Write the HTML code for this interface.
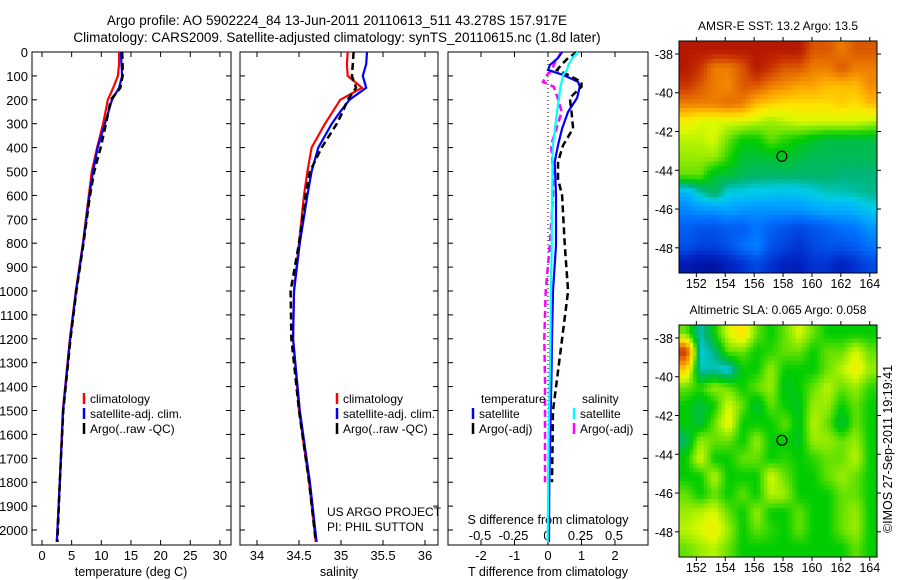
<!DOCTYPE html>
<html><head><meta charset="utf-8"><style>
body{margin:0;background:#fff;}
svg{display:block;font-family:"Liberation Sans",sans-serif;}
</style></head><body>
<svg id="c" width="900" height="580" viewBox="0 0 900 580">
<text x="337" y="25" font-size="13.5" text-anchor="middle">Argo profile: AO 5902224_84 13-Jun-2011 20110613_511 43.278S 157.917E</text>
<text x="337" y="42" font-size="13.5" text-anchor="middle">Climatology: CARS2009. Satellite-adjusted climatology: synTS_20110615.nc (1.8d later)</text>
</svg>
<script>
// ---- data ----
const depths=[0,50,100,150,200,250,300,400,500,600,800,1000,1200,1500,1800,2050];
const tempClim=[13.0,13.0,12.8,12.0,11.1,10.7,10.3,9.3,8.4,7.9,6.9,5.7,4.7,3.5,3.0,2.5];
const tempSat=[13.3,13.4,13.5,13.0,11.8,11.2,10.6,9.4,8.6,8.0,6.95,5.75,4.75,3.55,3.0,2.5];
const tempArgo=[13.5,13.6,13.6,13.2,11.6,11.2,10.8,9.9,8.8,8.1,7.0,5.8,4.8,3.6,3.0,2.6];
const salClim=[35.08,35.07,35.08,35.25,34.99,34.9,34.81,34.65,34.6,34.56,34.5,34.44,34.43,34.5,34.62,34.7];
const salSat=[35.31,35.3,35.26,35.3,35.1,34.99,34.89,34.73,34.65,34.6,34.51,34.44,34.43,34.51,34.63,34.71];
const salArgo=[35.15,35.14,35.13,35.18,35.08,35.02,34.95,34.77,34.63,34.58,34.5,34.4,34.41,34.5,34.62,34.7];
const dDepth=[0,25,54,75,96,125,145,192,250,320,390,460,530,600,810,1000,1200,1370,1500,1800,2050];
const dTsat=[0.42,0.3,0.06,0.0,0.45,0.9,0.95,0.87,0.6,0.42,0.3,0.2,0.22,0.24,0.24,0.15,0.12,0.1,0.08,0.04,0.03];
const dTargo=[0.87,0.6,0.4,0.27,0.6,1.0,1.0,0.65,0.7,0.75,0.45,0.3,0.3,0.42,0.5,0.6,0.42,0.27,0.15,0.12,null];
const dSsat=[0.23,0.19,0.16,0.15,0.12,0.11,0.1,0.09,0.075,0.06,0.045,0.04,0.04,0.037,0.035,0.03,0.025,0.02,0.015,0.008,0.005];
const dSargo=[0.11,0.08,0.05,0.04,0.0,-0.03,0.05,0.08,0.11,0.07,0.03,0.04,0.045,0.045,0.02,-0.01,-0.02,-0.015,-0.015,-0.015,null];
const sstGrid=[
[0.95,0.95,0.95,0.95,0.95,0.95,0.95,0.95,0.95,0.85,0.85,0.8,0.85,0.85],
[0.95,0.9,0.8,0.8,0.85,0.95,0.9,0.85,0.85,0.8,0.8,0.85,0.8,0.8],
[0.9,0.85,0.8,0.78,0.85,0.85,0.8,0.78,0.75,0.75,0.72,0.72,0.72,0.78],
[0.8,0.8,0.8,0.82,0.8,0.72,0.7,0.68,0.68,0.68,0.68,0.7,0.68,0.72],
[0.65,0.62,0.62,0.62,0.62,0.6,0.58,0.6,0.62,0.62,0.62,0.62,0.62,0.6],
[0.6,0.6,0.62,0.55,0.5,0.5,0.55,0.52,0.5,0.48,0.46,0.46,0.46,0.46],
[0.58,0.58,0.58,0.52,0.47,0.47,0.47,0.48,0.46,0.45,0.45,0.45,0.45,0.45],
[0.55,0.55,0.47,0.47,0.45,0.44,0.44,0.44,0.44,0.44,0.44,0.43,0.43,0.43],
[0.34,0.4,0.45,0.38,0.38,0.37,0.37,0.36,0.37,0.38,0.4,0.4,0.41,0.42],
[0.28,0.3,0.3,0.32,0.3,0.3,0.3,0.3,0.3,0.32,0.33,0.33,0.34,0.37],
[0.22,0.2,0.2,0.22,0.22,0.26,0.22,0.2,0.18,0.2,0.22,0.25,0.26,0.3],
[0.2,0.17,0.17,0.2,0.25,0.28,0.2,0.17,0.14,0.18,0.2,0.2,0.22,0.26],
[0.08,0.06,0.06,0.1,0.14,0.18,0.14,0.1,0.1,0.14,0.14,0.1,0.14,0.18]];
const slaGrid=[
[0.55,0.4,0.5,0.62,0.68,0.55,0.5,0.55,0.62,0.55,0.5,0.5,0.5,0.5],
[0.9,0.38,0.42,0.55,0.55,0.5,0.52,0.55,0.55,0.5,0.55,0.55,0.62,0.55],
[0.7,0.4,0.4,0.37,0.5,0.5,0.58,0.5,0.5,0.5,0.55,0.6,0.65,0.58],
[0.55,0.52,0.58,0.55,0.5,0.55,0.58,0.48,0.5,0.55,0.6,0.55,0.58,0.52],
[0.5,0.46,0.5,0.62,0.55,0.46,0.55,0.5,0.48,0.58,0.58,0.5,0.55,0.5],
[0.5,0.46,0.55,0.65,0.5,0.5,0.5,0.55,0.48,0.6,0.55,0.46,0.55,0.5],
[0.44,0.58,0.55,0.55,0.5,0.58,0.5,0.5,0.48,0.58,0.58,0.55,0.58,0.5],
[0.5,0.62,0.5,0.5,0.55,0.55,0.5,0.52,0.5,0.52,0.55,0.55,0.6,0.5],
[0.5,0.5,0.6,0.5,0.5,0.5,0.62,0.55,0.5,0.5,0.55,0.58,0.55,0.5],
[0.55,0.5,0.55,0.5,0.55,0.5,0.6,0.58,0.5,0.5,0.5,0.55,0.55,0.5],
[0.58,0.6,0.62,0.55,0.5,0.58,0.5,0.5,0.55,0.5,0.5,0.55,0.58,0.5],
[0.6,0.62,0.65,0.58,0.5,0.55,0.52,0.5,0.55,0.5,0.5,0.55,0.58,0.5],
[0.55,0.58,0.6,0.55,0.5,0.5,0.5,0.5,0.5,0.5,0.5,0.5,0.55,0.5]];
const depthTicks=[0,100,200,300,400,500,600,700,800,900,1000,1100,1200,1300,1400,1500,1600,1700,1800,1900,2000];
const tempTicks=[0,5,10,15,20,25,30];
const salTicks=[34,34.5,35,35.5,36];
const tdTicks=[-2,-1,0,1,2];
const sdTicks=[-0.5,-0.25,0,0.25,0.5];
const sdLabels=['-0.5','-0.25','0','0.25','0.5'];
const lonTicks=[152,154,156,158,160,162,164];
const latTicks=[-38,-40,-42,-44,-46,-48];
const argoLon=157.917, argoLat=-43.278;

const svg=document.getElementById('c');
const NS='http://www.w3.org/2000/svg';
function mk(tag,a,parent){const e=document.createElementNS(NS,tag);for(const k in a)e.setAttribute(k,a[k]);(parent||svg).appendChild(e);return e;}
const TOP=52,BOT=545;
const yD=d=>TOP+d*0.239;
const xT=v=>42+v*5.93;
const xS=v=>257+(v-34)*84;
const xTd=v=>548+v*33.5;
const xSd=v=>547+v*134;

function series(xs,ys,fx,color,w,dash,name){
  let pts=[];
  for(let i=0;i<xs.length;i++){if(xs[i]===null)continue;pts.push(fx(xs[i]).toFixed(1)+','+yD(ys[i]).toFixed(1));}
  const p=mk('polyline',{points:pts.join(' '),fill:'none',stroke:color,'stroke-width':w});
  if(dash)p.setAttribute('stroke-dasharray',dash);
  
  
}
function panel(x0,x1,name){
  const r=mk('rect',{x:x0,y:TOP,width:x1-x0,height:BOT-TOP,fill:'none',stroke:'#000','stroke-width':1});
  
  
  depthTicks.forEach(d=>{mk('line',{x1:x0,x2:x0+5,y1:yD(d),y2:yD(d),stroke:'#000'});mk('line',{x1:x1,x2:x1-5,y1:yD(d),y2:yD(d),stroke:'#000'});});
}
panel(32,231,'temperature-panel');panel(240,438,'salinity-panel');panel(448,648,'difference-panel');
depthTicks.forEach(d=>{const t=mk('text',{x:28,y:yD(d)+5,'font-size':13,'text-anchor':'end'});t.textContent=d;
 
 });
function xticks(arr,fx,labels,y,bottomTicks,name){
 arr.forEach((v,i)=>{const x=fx(v);
  if(bottomTicks){mk('line',{x1:x,x2:x,y1:BOT,y2:BOT-5,stroke:'#000'});mk('line',{x1:x,x2:x,y1:TOP,y2:TOP+5,stroke:'#000'});}
  const t=mk('text',{x:x,y:y,'font-size':13,'text-anchor':'middle'});t.textContent=labels?labels[i]:v;
  
  });
}
xticks(tempTicks,xT,null,560,true,'temperature-tick-label');
xticks(salTicks,xS,null,560,true,'salinity-tick-label');
xticks(tdTicks,xTd,null,560,true,'t-diff-tick-label');
xticks(sdTicks,xSd,sdLabels,540,false,'s-diff-tick-label');
function txt(x,y,s,size,anchor,name,extra){const t=mk('text',Object.assign({x:x,y:y,'font-size':size,'text-anchor':anchor||'start'},extra||{}));t.textContent=s;
 
 return t;}
txt(131,576,'temperature (deg C)',12.5,'middle','temperature-axis-title');
txt(339,576,'salinity',12.5,'middle','salinity-axis-title');
txt(548,576,'T difference from climatology',12.5,'middle','t-diff-axis-title');
txt(548,524,'S difference from climatology',12.5,'middle','s-diff-axis-title');
txt(327,516,'US ARGO PROJECT',12,'start','project-label');
txt(327,531,'PI: PHIL SUTTON',12,'start','pi-label');
const z=mk('line',{x1:xTd(0),x2:xTd(0),y1:TOP,y2:BOT,stroke:'#000','stroke-dasharray':'1 3'});


series(tempClim,depths,xT,'#f00',2.2,null,'temp-climatology-line');
series(tempSat,depths,xT,'#00f',2.2,null,'temp-satellite-line');
series(tempArgo,depths,xT,'#000',2.5,'7 4','temp-argo-line');
series(salClim,depths,xS,'#f00',2.2,null,'sal-climatology-line');
series(salSat,depths,xS,'#00f',2.2,null,'sal-satellite-line');
series(salArgo,depths,xS,'#000',2.5,'7 4','sal-argo-line');
series(dSargo,dDepth,xSd,'#f0f',2.5,'7 4','s-diff-argo-line');
series(dTsat,dDepth,xTd,'#00f',2.2,null,'t-diff-satellite-line');
series(dTargo,dDepth,xTd,'#000',2.5,'7 4','t-diff-argo-line');
series(dSsat,dDepth,xSd,'#0ff',2.2,null,'s-diff-satellite-line');
function leg(x,y,color,label,name){mk('line',{x1:x,x2:x,y1:y-10,y2:y+1,stroke:color,'stroke-width':2.5});txt(x+6,y,label,12,'start',name);}
[[0,'#f00','climatology'],[1,'#00f','satellite-adj. clim.'],[2,'#000','Argo(..raw -QC)']].forEach(l=>{
 leg(84,403+l[0]*15,l[1],l[2],'temp-legend-entry');leg(337,403+l[0]*15,l[1],l[2],'sal-legend-entry');});
txt(481,403,'temperature',12,'start','diff-legend-temperature-header');
txt(582,403,'salinity',12,'start','diff-legend-salinity-header');
leg(473,418,'#00f','satellite','diff-legend-t-satellite');
leg(473,433,'#000','Argo(-adj)','diff-legend-t-argo');
leg(574,418,'#0ff','satellite','diff-legend-s-satellite');
leg(574,433,'#f0f','Argo(-adj)','diff-legend-s-argo');
// colormap
const CS=[[0,0,0,130],[0.12,0,40,200],[0.25,0,110,255],[0.33,0,170,255],[0.38,0,205,230],[0.43,0,180,120],[0.5,0,205,0],[0.56,120,230,0],[0.62,220,250,0],[0.67,255,230,0],[0.74,255,170,0],[0.82,230,110,0],[0.9,200,50,0],[1,160,0,0]];
function cmap(v){v=Math.max(0,Math.min(1,v));
 for(let i=1;i<CS.length;i++){if(v<=CS[i][0]){const a=CS[i-1],b=CS[i],t=(v-a[0])/(b[0]-a[0]);
  return `rgb(${Math.round(a[1]+t*(b[1]-a[1]))},${Math.round(a[2]+t*(b[2]-a[2]))},${Math.round(a[3]+t*(b[3]-a[3]))})`;}}
 return 'rgb(160,0,0)';}
function sample(grid,fr,fc){const nr=grid.length,nc=grid[0].length;
 fr=Math.max(0,Math.min(nr-1,fr));fc=Math.max(0,Math.min(nc-1,fc));
 const r0=Math.floor(fr),c0=Math.floor(fc),r1=Math.min(nr-1,r0+1),c1=Math.min(nc-1,c0+1),tr=fr-r0,tc=fc-c0;
 return (grid[r0][c0]*(1-tc)+grid[r0][c1]*tc)*(1-tr)+(grid[r1][c0]*(1-tc)+grid[r1][c1]*tc)*tr;}
function map(grid,y0,title,name){
 const X0=679,X1=877,Y1=y0+232;
 const lonMin=150.8,lonMax=164.5,latMax=-37.33,latMin=-49.3;
 const fx=lo=>X0+(lo-lonMin)/(lonMax-lonMin)*(X1-X0);
 const fy=la=>y0+(latMax-la)/(latMax-latMin)*(Y1-y0);
 const nr=grid.length,nc=grid[0].length,S=4;
 const g=mk('g',{});
 for(let r=0;r<nr*S;r++)for(let c=0;c<nc*S;c++){
  const lo0=lonMin+c*(lonMax-lonMin)/(nc*S),lo1=lonMin+(c+1)*(lonMax-lonMin)/(nc*S);
  const la0=latMax-r*(latMax-latMin)/(nr*S),la1=latMax-(r+1)*(latMax-latMin)/(nr*S);
  const v=sample(grid,(r+0.5)/S-0.5,(c+0.5)/S-0.5);
  const cell=mk('rect',{x:fx(lo0),y:fy(la0),width:fx(lo1)-fx(lo0)+0.5,height:fy(la1)-fy(la0)+0.5,fill:cmap(v)},g);
  
  }
 mk('rect',{x:X0,y:y0,width:X1-X0,height:Y1-y0,fill:'none',stroke:'#000'});
 lonTicks.forEach(lo=>{mk('line',{x1:fx(lo),x2:fx(lo),y1:Y1,y2:Y1+4,stroke:'#000'});mk('line',{x1:fx(lo),x2:fx(lo),y1:y0,y2:y0-4,stroke:'#000'});
  txt(fx(lo),Y1+15,lo,12.5,'middle','lon-tick-label');});
 latTicks.forEach(la=>{mk('line',{x1:X0,x2:X0-4,y1:fy(la),y2:fy(la),stroke:'#000'});mk('line',{x1:X1,x2:X1+4,y1:fy(la),y2:fy(la),stroke:'#000'});
  txt(X0-6,fy(la)+5,la,12.5,'end','lat-tick-label');});
 const m=mk('circle',{cx:fx(argoLon),cy:fy(argoLat),r:5,fill:'none',stroke:'#000','stroke-width':1.2});
 
 
 txt(778,y0-11,title,12,'middle','map-title');
}
map(sstGrid,41,'AMSR-E SST: 13.2 Argo: 13.5','sst-map');
map(slaGrid,325,'Altimetric SLA: 0.065 Argo: 0.058','sla-map');
txt(0,0,'©IMOS 27-Sep-2011 19:19:41',12.5,'middle','copyright-timestamp',{transform:'translate(892,449) rotate(-90)'});
</script>
</body></html>
